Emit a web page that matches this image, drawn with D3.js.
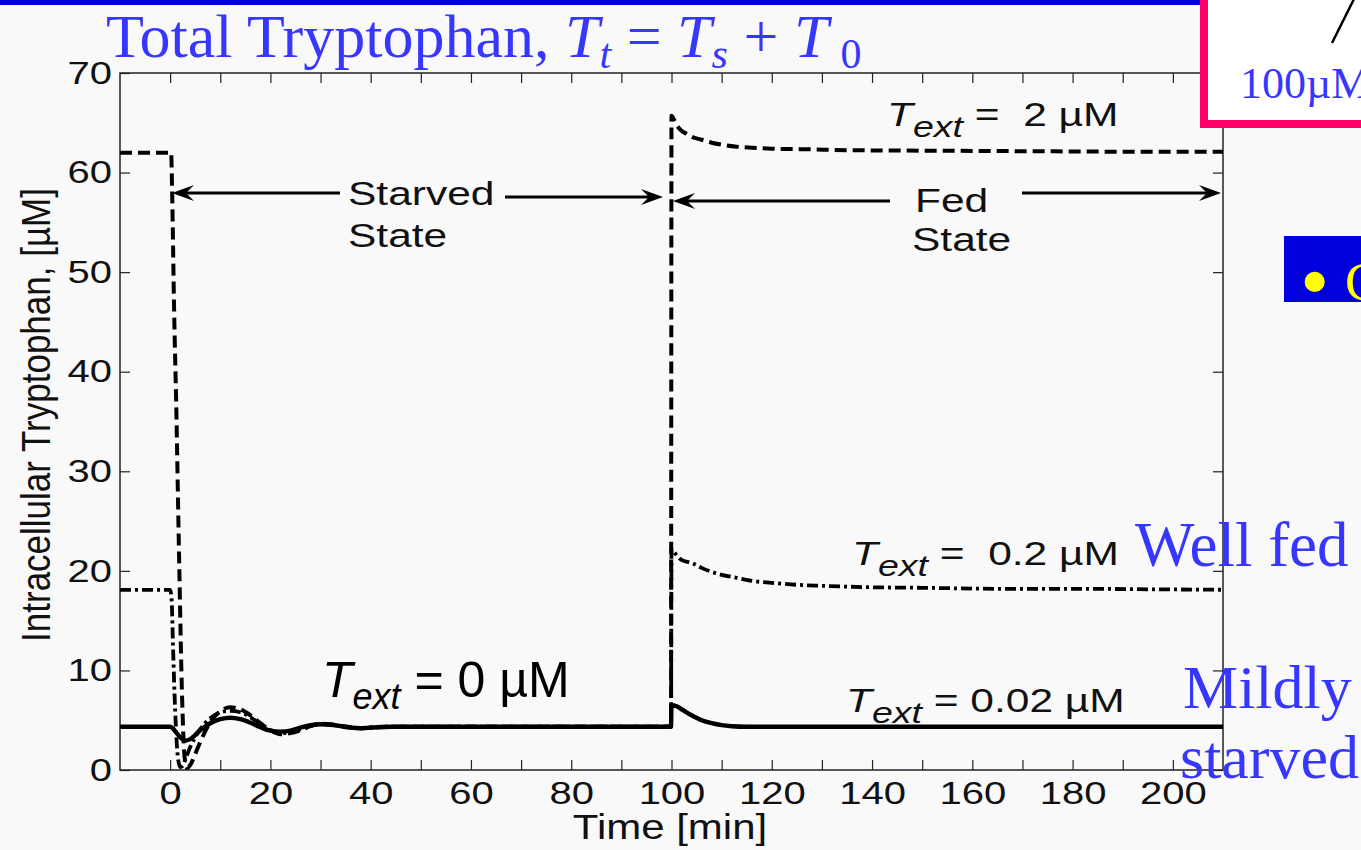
<!DOCTYPE html>
<html><head><meta charset="utf-8">
<script src="https://cdn.jsdelivr.net/npm/d3@7"></script>
<style>html,body{margin:0;padding:0;background:#f9f9f9;overflow:hidden}</style>
</head><body>
<script>
// ---------------- DATA ----------------
// T_ext = 2 uM (dashed)
const dashTime = [-10, 0.2, 0.4, 0.8, 1.2, 1.8, 2.4, 2.9, 3.4, 4, 5, 6, 8, 10, 12, 14, 16, 18, 20, 22, 24, 26, 28, 30, 32, 34, 36, 38, 40, 45, 99.9, 100, 100.5, 101, 102, 103, 104, 106, 108, 110, 113, 116, 120, 126, 135, 150, 170, 190, 210];
const dashTrp  = [62, 62, 58, 46, 37, 21, 7, 1.2, 0.2, 0.5, 1.6, 2.8, 4.8, 5.9, 6.3, 6.1, 5.5, 4.7, 4.0, 3.6, 3.7, 4.0, 4.4, 4.65, 4.6, 4.45, 4.3, 4.2, 4.25, 4.35, 4.35, 65.7, 65.3, 64.8, 64.2, 63.9, 63.6, 63.3, 63.0, 62.8, 62.6, 62.5, 62.4, 62.35, 62.25, 62.2, 62.15, 62.1, 62.1];
// T_ext = 0.2 uM (dash-dot)
const dashDotTime = [-10, 0, 0.3, 0.6, 1.0, 1.5, 2.0, 2.5, 3.0, 4, 5, 6, 8, 10, 12, 14, 16, 18, 20, 22, 24, 26, 28, 30, 32, 34, 36, 38, 40, 45, 99.9, 100, 100.5, 101, 102, 104, 106, 108, 110, 113, 116, 120, 125, 130, 140, 150, 165, 180, 195, 210];
const dashDotTrp  = [18.1, 18.1, 17, 12, 6, 1.5, 0.3, 0.4, 1.0, 2.3, 3.3, 4.1, 5.2, 5.8, 5.95, 5.8, 5.3, 4.6, 4.0, 3.7, 3.8, 4.1, 4.45, 4.6, 4.55, 4.4, 4.25, 4.2, 4.3, 4.35, 4.35, 22.2, 21.9, 21.6, 21.1, 20.8, 20.3, 19.9, 19.6, 19.3, 19.0, 18.8, 18.6, 18.5, 18.35, 18.3, 18.2, 18.2, 18.15, 18.1];
// T_ext = 0.02 uM (solid)
const solidTime = [-10, 0, 0.5, 1, 2, 3, 4, 6, 8, 10, 12, 14, 16, 18, 20, 22, 24, 26, 28, 30, 32, 34, 36, 38, 40, 44, 50, 99.9, 100, 101, 102, 104, 106, 108, 110, 112, 115, 120, 210];
const solidTrp  = [4.35, 4.35, 4.2, 3.9, 3.3, 2.95, 3.1, 4.0, 4.7, 5.1, 5.25, 5.1, 4.75, 4.3, 3.95, 3.85, 3.95, 4.25, 4.5, 4.6, 4.55, 4.4, 4.25, 4.2, 4.25, 4.35, 4.35, 4.35, 6.5, 6.4, 6.1, 5.5, 5.0, 4.7, 4.5, 4.4, 4.35, 4.35, 4.35];

const xTickValues = [0,10,20,30,40,50,60,70,80,90,100,110,120,130,140,150,160,170,180,190,200];
const xTickLabels = [0,20,40,60,80,100,120,140,160,180,200];
const yTickValues = [0,10,20,30,40,50,60,70];
const xDomain = [-10, 210];
const yDomain = [0, 70];

// ---------------- LAYOUT ----------------
const W = 1361, H = 850;
const L = 120, R = 1223, T = 73, B = 770;
const SANS = "'Liberation Sans', Arial, Helvetica, sans-serif";
const SERIF = "'Liberation Serif', 'Times New Roman', Times, serif";
const BLUE_TXT = "#3636ff";
const SX = 1.25; // horizontal stretch of the original figure text

const svg = d3.select("body").append("svg").attr("width", W).attr("height", H)
  .style("display","block");
svg.append("rect").attr("width", W).attr("height", H).attr("fill", "#f9f9f9");

const x = d3.scaleLinear().domain(xDomain).range([L, R]);
const y = d3.scaleLinear().domain(yDomain).range([B, T]);

svg.append("clipPath").attr("id","plotclip").append("rect")
  .attr("x", L).attr("y", T).attr("width", R-L).attr("height", B-T);

function styleAxis(g){
  g.select(".domain").remove();
  g.selectAll(".tick line").attr("stroke","#222").attr("stroke-width",1.2);
  g.selectAll("text").attr("fill","#111").attr("font-family",SANS);
}
const gx = svg.append("g").attr("transform",`translate(0,${B})`)
  .call(d3.axisBottom(x).tickValues(xTickValues).tickSizeInner(-10).tickSizeOuter(0).tickPadding(11)
    .tickFormat(d => xTickLabels.includes(d) ? d : ""));
styleAxis(gx);
gx.selectAll("text").attr("font-size",32).attr("transform",`scale(${SX},1)`);

const gxt = svg.append("g").attr("transform",`translate(0,${T})`)
  .call(d3.axisTop(x).tickValues(xTickValues).tickSizeInner(-10).tickSizeOuter(0).tickFormat(""));
styleAxis(gxt);

const gy = svg.append("g").attr("transform",`translate(${L},0)`)
  .call(d3.axisLeft(y).tickValues(yTickValues).tickSizeInner(-10).tickSizeOuter(0).tickPadding(8));
styleAxis(gy);
gy.selectAll("text").attr("font-size",32).attr("x",0).attr("transform",`translate(-8,0) scale(${SX},1)`);

const gyr = svg.append("g").attr("transform",`translate(${R},0)`)
  .call(d3.axisRight(y).tickValues(yTickValues).tickSizeInner(-10).tickSizeOuter(0).tickFormat(""));
styleAxis(gyr);

svg.append("rect").attr("x",L).attr("y",T).attr("width",R-L).attr("height",B-T)
  .attr("fill","none").attr("stroke","#222").attr("stroke-width",1.5);

// series
const line = d3.line().x(d => x(d[0])).y(d => y(d[1])).curve(d3.curveMonotoneX);
const plot = svg.append("g").attr("clip-path","url(#plotclip)");
function series(times, vals, dash, width){
  plot.append("path").datum(times.map((t,i)=>[t, vals[i]]))
    .attr("d", line).attr("fill","none").attr("stroke","#000")
    .attr("stroke-width", width).attr("stroke-dasharray", dash)
    .attr("stroke-linejoin","round");
}
series(dashTime, dashTrp, "12,6", 4);
series(dashDotTime, dashDotTrp, "11,4,3,4", 3.8);
series(solidTime, solidTrp, null, 4.4);

// arrows
function arrow(x1, x2, yy){ // head at x2
  const d = x2 > x1 ? 1 : -1;
  svg.append("line").attr("x1",x1).attr("x2",x2 - d*10).attr("y1",yy).attr("y2",yy)
    .attr("stroke","#000").attr("stroke-width",3);
  svg.append("path")
    .attr("d",`M${x2},${yy} L${x2-d*22},${yy-8} L${x2-d*14},${yy} L${x2-d*22},${yy+8} Z`)
    .attr("fill","#000");
}
arrow(340, 172, 193);
arrow(505, 663, 197);
arrow(890, 673, 201);
arrow(1022, 1221, 193);

function stext(txt, px, py, size){
  return svg.append("text").attr("transform",`translate(${px},${py}) scale(${SX},1)`)
    .attr("font-family",SANS).attr("font-size",size).attr("fill","#111").text(txt);
}
stext("Starved", 348, 205, 34);
stext("State", 348, 247, 34);
stext("Fed", 915, 212, 34);
stext("State", 912, 251, 34);

function textLabel(px, py, value){
  const t = svg.append("text").attr("transform",`translate(${px},${py}) scale(${SX},1)`)
    .attr("font-family",SANS).attr("font-size",34).attr("fill","#111").style("white-space","pre");
  t.append("tspan").attr("font-style","italic").text("T");
  t.append("tspan").attr("font-style","italic").attr("font-size",30).attr("dy",11).text("ext");
  t.append("tspan").attr("dy",-11).text(value);
}
textLabel(887, 126, " =  2 \u00B5M");
textLabel(852, 565, " =  0.2 \u00B5M");
textLabel(846, 712, " = 0.02 \u00B5M");

{
  const t = svg.append("text").attr("x",322).attr("y",697)
    .attr("font-family",SANS).attr("font-size",50).attr("fill","#000").style("white-space","pre");
  t.append("tspan").attr("font-style","italic").text("T");
  t.append("tspan").attr("font-style","italic").attr("font-size",36).attr("dy",12).text("ext");
  t.append("tspan").attr("dy",-12).text(" = 0 \u00B5M");
}

svg.append("text").attr("transform",`translate(670,839) scale(1.2,1)`).attr("text-anchor","middle")
  .attr("font-family",SANS).attr("font-size",35).attr("fill","#111").text("Time [min]");
svg.append("text").attr("transform",`translate(50,415) scale(1.15,1) rotate(-90)`).attr("text-anchor","middle")
  .attr("font-family",SANS).attr("font-size",35).attr("fill","#111").text("Intracellular Tryptophan, [\u00B5M]");

// ---------------- slide decorations ----------------
svg.append("rect").attr("x",0).attr("y",0).attr("width",1200).attr("height",5).attr("fill","#0000dd");

{
  const t = svg.append("text").attr("x",106).attr("y",57)
    .attr("font-family",SERIF).attr("font-size",62).attr("fill",BLUE_TXT).style("white-space","pre");
  t.append("tspan").text("Total Tryptophan, ");
  t.append("tspan").attr("font-style","italic").text("T");
  t.append("tspan").attr("font-style","italic").attr("font-size",42).attr("dy",11).text("t");
  t.append("tspan").attr("dy",-11).text(" = ");
  t.append("tspan").attr("font-style","italic").text("T");
  t.append("tspan").attr("font-style","italic").attr("font-size",42).attr("dy",11).text("s");
  t.append("tspan").attr("dy",-11).text(" + ");
  t.append("tspan").attr("font-style","italic").text("T");
  t.append("tspan").attr("font-size",42).attr("dy",11).attr("dx",12).text("0");
}

svg.append("rect").attr("x",1204).attr("y",-10).attr("width",200).attr("height",134)
  .attr("fill","#ffffff").attr("stroke","#ff0066").attr("stroke-width",8);
svg.append("line").attr("x1",1332).attr("y1",43).attr("x2",1356).attr("y2",-5)
  .attr("stroke","#000").attr("stroke-width",2.5);
svg.append("text").attr("x",1240).attr("y",98).attr("font-family",SERIF).attr("font-size",44)
  .attr("fill",BLUE_TXT).text("100\u00B5M");

svg.append("rect").attr("x",1284).attr("y",236).attr("width",80).attr("height",66).attr("fill","#0000dd");
svg.append("text").attr("x",1300).attr("y",310).attr("font-family",SERIF).attr("font-size",84)
  .attr("fill","#ffff00").text("\u2022");
svg.append("text").attr("x",1345).attr("y",300).attr("font-family",SERIF).attr("font-size",54)
  .attr("fill","#ffff00").text("C");

svg.append("text").attr("x",1135).attr("y",566).attr("font-family",SERIF).attr("font-size",63)
  .attr("fill",BLUE_TXT).text("Well fed");
svg.append("text").attr("x",1183).attr("y",708).attr("font-family",SERIF).attr("font-size",62)
  .attr("fill",BLUE_TXT).text("Mildly");
svg.append("text").attr("x",1180).attr("y",778).attr("font-family",SERIF).attr("font-size",62)
  .attr("fill",BLUE_TXT).text("starved");
</script>
</body></html>
